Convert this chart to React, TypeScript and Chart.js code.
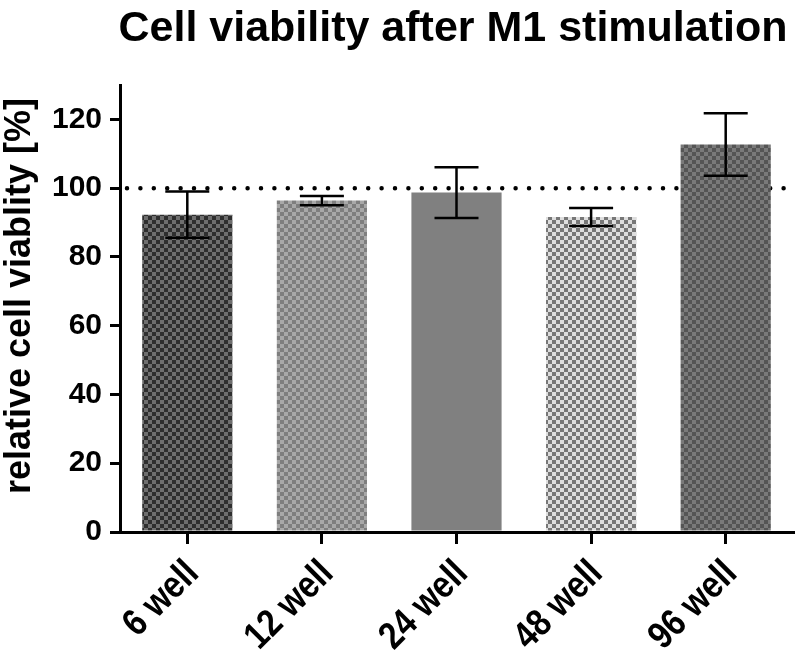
import React, { useEffect, useRef } from "react";
import { Chart, registerables } from "chart.js";

Chart.register(...registerables);

const categories = ["6 well", "12 well", "24 well", "48 well", "96 well"];
const viability = [92.3, 96.4, 98.7, 91.6, 112.7];
const errorSD = [6.7, 1.35, 7.4, 2.6, 9.1];
const yTicks = [0, 20, 40, 60, 80, 100, 120];
const referenceLine = 100;
const titleText = "Cell viability after M1 stimulation";
const yLabelText = "relative cell viablity [%]";

const checkerColors: [string, string][] = [
  ["#2e2e2e", "#6e6e6e"],
  ["#7e7e7e", "#a8a8a8"],
  ["#808080", "#808080"],
  ["#777777", "#dedede"],
  ["#555555", "#7a7a7a"],
];

const FONT = "'Liberation Sans', Arial, Helvetica, sans-serif";

function checker(a: string, b: string, size = 4): CanvasPattern | string {
  const c = document.createElement("canvas");
  c.width = size * 2;
  c.height = size * 2;
  const x = c.getContext("2d");
  if (!x) return a;
  x.fillStyle = a;
  x.fillRect(0, 0, size * 2, size * 2);
  x.fillStyle = b;
  x.fillRect(0, 0, size, size);
  x.fillRect(size, size, size, size);
  return x.createPattern(c, "repeat") || a;
}

const overlayPlugin = {
  id: "overlay",
  beforeDatasetsDraw(chart: any) {
    const { ctx, chartArea } = chart;
    const y = chart.scales.y;
    const py = y.getPixelForValue(referenceLine);
    ctx.save();
    ctx.strokeStyle = "#000";
    ctx.lineWidth = 4.5;
    ctx.lineCap = "round";
    ctx.setLineDash([0, 13.4]);
    ctx.beginPath();
    ctx.moveTo(chartArea.left + 7, py);
    ctx.lineTo(chart.width, py);
    ctx.stroke();
    ctx.restore();
  },
  afterDatasetsDraw(chart: any) {
    const { ctx } = chart;
    const y = chart.scales.y;
    const meta = chart.getDatasetMeta(0);
    ctx.save();
    ctx.strokeStyle = "#000";
    ctx.lineWidth = 2.5;
    meta.data.forEach((bar: any, i: number) => {
      const x = bar.x;
      const top = y.getPixelForValue(viability[i] + errorSD[i]);
      const bot = y.getPixelForValue(viability[i] - errorSD[i]);
      const half = 22;
      ctx.beginPath();
      ctx.moveTo(x, top);
      ctx.lineTo(x, bot);
      ctx.moveTo(x - half, top);
      ctx.lineTo(x + half, top);
      ctx.moveTo(x - half, bot);
      ctx.lineTo(x + half, bot);
      ctx.stroke();
    });
    ctx.restore();
  },
  afterDraw(chart: any) {
    const { ctx } = chart;
    const xs = chart.scales.x;
    ctx.save();
    ctx.fillStyle = "#000";
    ctx.font = `bold 43px ${FONT}`;
    ctx.textAlign = "center";
    ctx.textBaseline = "alphabetic";
    ctx.fillText(titleText, 453, 41);
    ctx.restore();

    ctx.save();
    ctx.fillStyle = "#000";
    ctx.translate(20, 296);
    ctx.rotate(-Math.PI / 2);
    ctx.font = `bold 36px ${FONT}`;
    ctx.textAlign = "center";
    ctx.textBaseline = "middle";
    ctx.fillText(yLabelText, 0, 0);
    ctx.restore();

    categories.forEach((label, i) => {
      const px = xs.getPixelForValue(i);
      ctx.save();
      ctx.fillStyle = "#000";
      ctx.font = `bold 38px ${FONT}`;
      ctx.textAlign = "right";
      ctx.textBaseline = "alphabetic";
      ctx.translate(px + 13, 575);
      ctx.rotate(-Math.PI / 4);
      ctx.scale(0.86, 1);
      ctx.fillText(label, 0, 0);
      ctx.restore();
    });
  },
};

export default function App() {
  const ref = useRef<HTMLCanvasElement | null>(null);
  useEffect(() => {
    if (!ref.current) return;
    const patterns = checkerColors.map(([a, b]) => checker(a, b, 4));
    const chart = new Chart(ref.current, {
      type: "bar",
      data: {
        labels: categories,
        datasets: [
          {
            data: viability,
            backgroundColor: patterns as any,
            borderWidth: 0,
            barPercentage: 0.67,
            categoryPercentage: 1,
          },
        ],
      },
      options: {
        responsive: false,
        animation: false,
        events: [],
        layout: { padding: { top: 85, right: 2, left: 0, bottom: 0 } },
        plugins: {
          legend: { display: false },
          tooltip: { enabled: false },
          title: { display: false },
        },
        scales: {
          x: {
            afterFit: (s: any) => {
              s.height = 122;
            },
            border: { color: "#000", width: 3 },
            grid: {
              drawOnChartArea: false,
              color: "#000",
              lineWidth: 3,
              tickLength: 12,
              offset: false,
            },
            ticks: {
              display: false,
            },
          },
          y: {
            min: 0,
            max: 130,
            afterBuildTicks: (s: any) => {
              s.ticks = yTicks.map((v) => ({ value: v }));
            },
            afterFit: (s: any) => {
              s.width = 120;
            },
            border: { color: "#000", width: 3 },
            grid: {
              drawOnChartArea: false,
              color: "#000",
              lineWidth: 3,
              tickLength: 10,
            },
            ticks: {
              color: "#000",
              font: { family: FONT, size: 30, weight: "bold" },
              padding: 8,
            },
          },
        },
      },
      plugins: [overlayPlugin],
    });
    return () => chart.destroy();
  }, []);
  return (
    <canvas
      ref={ref}
      width={795}
      height={654}
      style={{ position: "absolute", left: 0, top: 0, display: "block", background: "#fff" }}
    />
  );
}
